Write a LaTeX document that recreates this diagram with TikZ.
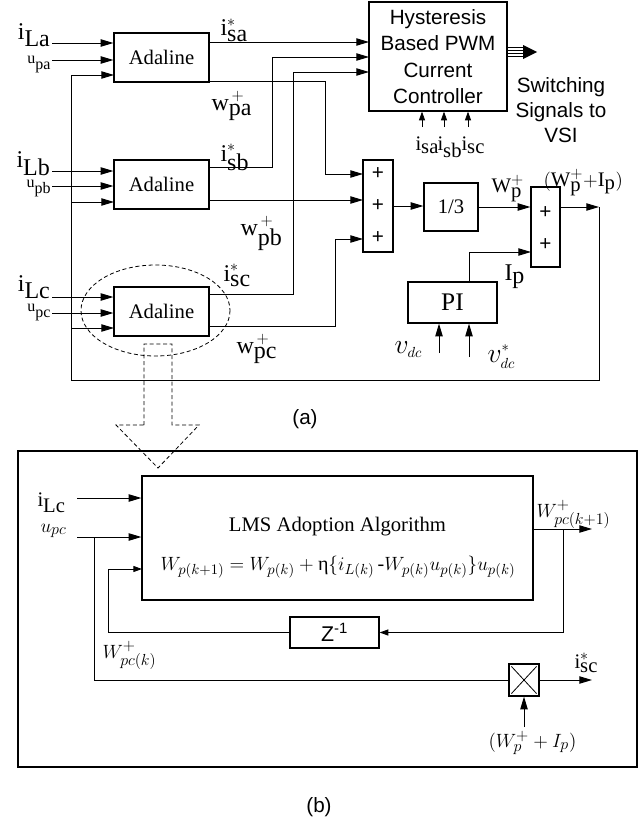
\documentclass[tikz,border=0pt]{standalone}
\usepackage{fontspec}
\setmainfont{Liberation Serif}
\setsansfont{Liberation Sans}
\usetikzlibrary{arrows.meta,calc}
\DeclareMathSizes{15.5}{15.5}{11.5}{9}
\DeclareMathSizes{15}{15}{11}{8.5}
\DeclareMathSizes{18}{18}{12.5}{9}
\DeclareMathSizes{21}{21}{10.5}{8}
\begin{document}
\begin{tikzpicture}[x=0.75pt,y=-0.75pt,
  font=\fontsize{15.5}{19}\selectfont,
  line width=0.75pt,
  sz/.style 2 args={minimum width=#1*0.75pt, minimum height=#2*0.75pt},
  box/.style={draw, line width=0.9pt, inner sep=0pt},
  arr/.style={-{Triangle[length=9.5pt,width=5.5pt]}},
  sarr/.style={-{Triangle[length=6.5pt,width=4.5pt]}},
  lab/.style={inner sep=0pt, anchor=base west},
  labe/.style={inner sep=0pt, anchor=base east},
  big/.style={font=\fontsize{18}{21}\selectfont},
  sans/.style={font=\sffamily\fontsize{15.5}{19}\selectfont},
  dsh/.style={dash pattern=on 3pt off 2pt, line width=0.6pt}]
\useasboundingbox (0,0) rectangle (639,821);

% ---------------- (a) ----------------
\node[box, sz={95}{49}] (A) at (161.5,57.5) {Adaline};
\node[box, sz={95}{49}] (B) at (161.5,184.5) {Adaline};
\node[box, sz={95}{49}] (C) at (161.5,311.5) {Adaline};
\node[box, sz={138}{109}, align=center, font=\sffamily\fontsize{15.5}{19.7}\selectfont] (H) at (438,56.5) {Hysteresis\\Based PWM\\Current\\Controller};
\node[box, sz={30}{92}] (S1) at (378,206) {};
\node[sans, inner sep=0pt] (p1) at (378,174) {+};
\node[sans, inner sep=0pt] (p2) at (378,206) {+};
\node[sans, inner sep=0pt] (p3) at (378,238) {+};
\node[box, sz={54}{48}] (T) at (451,207) {1/3};
\node[box, sz={29}{80}] (S2) at (545.5,227) {};
\node[sans, inner sep=0pt] (q1) at (545.5,213) {+};
\node[sans, inner sep=0pt] (q2) at (545.5,245) {+};
\node[box, sz={89}{41}, font=\fontsize{19}{22}\selectfont] (PI) at (452.5,302.5) {PI};
\node[align=center, font=\sffamily\fontsize{15.5}{18.75}\selectfont] (sw) at (561,110) {Switching\\Signals to\\VSI};

% input labels
\node[labe, big] (liLa) at (51,39) {$\textrm{i}_{\textrm{La}}$};
\node[labe, font=\fontsize{12}{14}\selectfont] (lupa) at (51,63) {u\raisebox{-4.5pt}{pa}};
\node[labe, big] (liLb) at (51,167) {$\textrm{i}_{\textrm{Lb}}$};
\node[labe, font=\fontsize{12}{14}\selectfont] (lupb) at (51,187) {u\raisebox{-4.5pt}{pb}};
\node[labe, big] (liLc) at (51,291) {$\textrm{i}_{\textrm{Lc}}$};
\node[labe, font=\fontsize{12}{14}\selectfont] (lupc) at (51,311) {u\raisebox{-4.5pt}{pc}};

% output labels
\node[lab, big] (lisa) at (220,36) {$\textrm{i}^{*}_{\textrm{sa}}$};
\node[lab, big] (lwpa) at (211,110) {$\textrm{w}^{\,+}_{\textrm{pa}}$};
\node[lab, big] (lisb) at (220,161) {$\textrm{i}^{*}_{\textrm{sb}}$};
\node[lab, big] (lwpb) at (240,235) {$\textrm{w}^{\,+}_{\textrm{pb}}$};
\node[lab, big] (lisc) at (223,281) {$\textrm{i}^{*}_{\textrm{sc}}$};
\node[lab, big] (lwpc) at (236,353) {$\textrm{w}^{\,+}_{\textrm{pc}}$};
\node[lab] (lWp) at (491,192) {$\textrm{W}^{+}_{\textrm{p}}$};
\node[lab] (lWI) at (543,186) {$(\textrm{W}^{+}_{\textrm{p}}{+}\textrm{I}_{\textrm{p}})$};
\node[lab, big] (lIp) at (504,280) {$\textrm{I}_{\textrm{p}}$};
\node[lab, font=\fontsize{21}{23}\selectfont] (lvdc) at (394,353) {$v_{dc}$};
\node[lab, font=\fontsize{21}{23}\selectfont] (lvdcs) at (487,362) {$v^{*}_{dc}$};
\node[lab] (lhsa) at (415,150) {$\textrm{i}_{\textrm{sa}}$};
\node[lab] (lhsb) at (437,150) {$\textrm{i}_{\textrm{sb}}$};
\node[lab] (lhsc) at (461,150) {$\textrm{i}_{\textrm{sc}}$};
\node[sans] (capa) at (305,419) {(a)};

% ports
\coordinate (iLa0) at (52,43);  \coordinate (upa0) at (52,60);
\coordinate (iLb0) at (52,171); \coordinate (upb0) at (52,186);
\coordinate (iLc0) at (52,297); \coordinate (upc0) at (52,313);
\coordinate (Ai3) at (114,75); \coordinate (Bi3) at (114,202); \coordinate (Ci3) at (114,328);
\coordinate (hi1) at (369,42); \coordinate (hi2) at (369,57); \coordinate (hi3) at (369,72);
\coordinate (Ao2) at (209,81); \coordinate (Bo1) at (209,167); \coordinate (Bo2) at (209,200);
\coordinate (Co1) at (209,294); \coordinate (Co2) at (209,326);
\coordinate (s1a) at (363,174); \coordinate (s1b) at (363,200); \coordinate (s1c) at (363,239);
\coordinate (s2b) at (531,252); \coordinate (PIo) at (469,282);
\coordinate (fb) at (599,207); \coordinate (fbl) at (71,380);
\coordinate (v1) at (439,353); \coordinate (v2) at (469,357);
\coordinate (ha) at (422,127); \coordinate (hb) at (444,127); \coordinate (hc) at (468,127);
\coordinate (bus0) at (507,52); \coordinate (bus1) at (537,52);

% inputs
\foreach \p in {iLa0,upa0}{\draw[arr] (\p) -- (\p -| A.west);}
\foreach \p in {iLb0,upb0}{\draw[arr] (\p) -- (\p -| B.west);}
\foreach \p in {iLc0,upc0}{\draw[arr] (\p) -- (\p -| C.west);}

% outputs
\draw[arr] (A.east |- hi1) -- (hi1);
\draw[arr] (Ao2) -- ++(116,0) |- (s1a);
\draw[arr] (Bo1) -- ++(63,0) |- (hi2);
\draw[arr] (Bo2) -- (s1b);
\draw[arr] (Co1) -- ++(84,0) |- (hi3);
\draw[arr] (Co2) -- ++(126,0) |- (s1c);
\draw[arr] (S1.east) -- (S1.east -| T.west);
\draw[arr] (T.east) -- (T.east -| S2.west);
\draw[arr] (PIo) |- (s2b);
\draw[arr] (S2.east |- fb) -- (fb);
\draw[arr] (fb) |- (fbl) |- (Ai3);
\draw[arr] (fbl |- Bi3) -- (Bi3);
\draw[arr] (fbl |- Ci3) -- (Ci3);
\draw[arr] (v1) -- (v1 |- PI.south);
\draw[arr] (v2) -- (v2 |- PI.south);
\foreach \p in {ha,hb,hc}{\draw[sarr, line width=0.6pt] (\p) -- (\p |- H.south);}

% bus arrow
\foreach \d in {-4.5,-1.5,1.5,4.5}{\draw[line width=0.6pt] ($(bus0)+(0,\d)$) -- ++(17,0);}
\fill ($(bus1)+(-14,-7)$) -- (bus1) -- ($(bus1)+(-14,7)$) -- cycle;

% dashed ellipse and arrow
\draw[dsh] (155.5,310.5) ellipse [x radius=74.5, y radius=45.5];
\draw[dsh] (144,425) -- (144,344) -- (172,344) -- (172,425) -- (199,425) -- (158,468) -- (116,425) -- cycle;

% ---------------- (b) ----------------
\node[box, sz={619}{316}] (frameb) at (327.5,609) {};
\node[box, sz={391}{124}] (LMS) at (337.5,538) {};
\node (lmst) at (337.5,527) {LMS Adoption Algorithm};
\node[font=\fontsize{15}{18}\selectfont] (lmseq) at (338,567) {$W_{p(k+1)} = W_{p(k)} + \textrm{η}\{i_{L(k)}\,\textrm{-}W_{p(k)}u_{p(k)}\}u_{p(k)}$};
\node[box, sz={89}{31}, font=\sffamily\fontsize{16}{19}\selectfont] (Z) at (334.5,632.5) {Z\textsuperscript{-1}};
\node[box, sz={30}{32}] (M) at (524,680) {};
\draw[line width=0.6pt] ($(M.north west)+(3,3)$) -- ($(M.south east)+(-3,-3)$);
\draw[line width=0.6pt] ($(M.north east)+(-3,3)$) -- ($(M.south west)+(3,-3)$);

\node[lab] (biLc) at (37,506) {$\textrm{i}_{\textrm{Lc}}$};
\node[lab] (bupc) at (40,532) {$u_{pc}$};
\node[lab] (bWk1) at (536,517) {$W^{+}_{pc(k+1)}$};
\node[lab] (bWk) at (102,658) {$W^{+}_{pc(k)}$};
\node[lab] (bisc) at (574,668) {$\textrm{i}^{*}_{\textrm{sc}}$};
\node[lab] (bWI) at (488,747) {$(W^{+}_{p} + I_{p})$};
\node[sans] (capb) at (319,807) {(b)};

\coordinate (bi1) at (77,498); \coordinate (bi2) at (77,537);
\coordinate (br) at (94,537); \coordinate (bi3) at (142,569);
\coordinate (Lo) at (533,529); \coordinate (Lout) at (592,529); \coordinate (Lbr) at (563,529);
\coordinate (Mout) at (592,680); \coordinate (Min) at (524,727);

\draw[arr] (bi1) -- (bi1 -| LMS.west);
\draw[arr] (bi2) -- (bi2 -| LMS.west);
\draw (br) |- (M.west);
\draw[sarr] (Z.west) -| ($(bi3)+(-34,0)$) -- (bi3);
\draw[arr] (Lo) -- (Lout);
\draw[sarr] (Lbr) |- (Z.east);
\draw[arr] (M.east) -- (Mout);
\draw[arr] (Min) -- (M.south);
\end{tikzpicture}
\end{document}
